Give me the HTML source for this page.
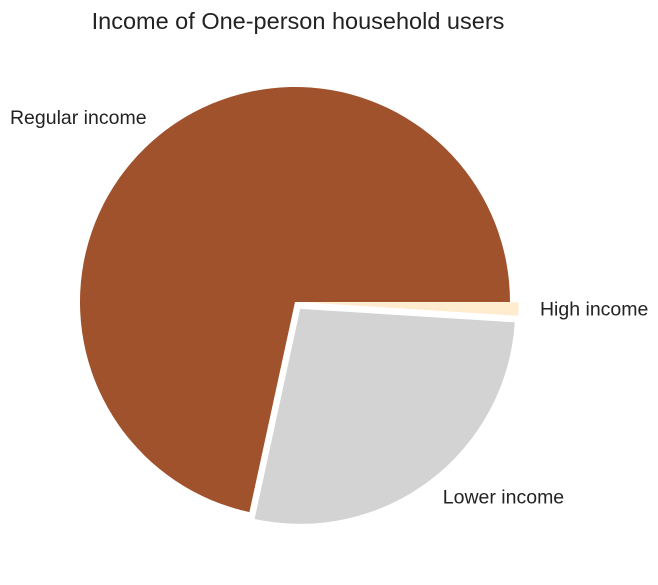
<!DOCTYPE html>
<html><head><meta charset="utf-8"><style>
html,body{margin:0;padding:0;background:#fff;}
svg{display:block;font-family:"Liberation Sans",Arial,sans-serif;}
</style></head><body>
<svg id="chart" width="658" height="585">
<text x="298" y="29" text-anchor="middle" font-size="23.5" fill="#222">Income of One-person household users</text>
<g id="slices"></g>
<g id="labels"></g>
</svg>
<script>
const categories = ["Regular income", "Lower income", "High income"];
const values = [71.6, 27.4, 1.0];
const explode = [0, 0.04, 0.04];
const colors = ["#A0522D", "#D3D3D3", "#FFEBCD"];
const cx = 295, cy = 302, r = 215;
const total = values.reduce((a, b) => a + b, 0);
const ns = "http://www.w3.org/2000/svg";
const gS = document.getElementById('slices'), gL = document.getElementById('labels');
let a0 = 0;
values.forEach((v, i) => {
  const a1 = a0 + v / total * 2 * Math.PI;
  const mid = (a0 + a1) / 2;
  const ox = cx + explode[i] * r * Math.cos(mid), oy = cy - explode[i] * r * Math.sin(mid);
  const x0 = ox + r * Math.cos(a0), y0 = oy - r * Math.sin(a0);
  const x1 = ox + r * Math.cos(a1), y1 = oy - r * Math.sin(a1);
  const large = (a1 - a0) > Math.PI ? 1 : 0;
  const p = document.createElementNS(ns, 'path');
  p.setAttribute('d', `M${ox},${oy} L${x0},${y0} A${r},${r} 0 ${large} 0 ${x1},${y1} Z`);
  p.setAttribute('fill', colors[i]);
  
  
  gS.appendChild(p);
  const lr = r * 1.1 + explode[i] * r;
  const lx = cx + lr * Math.cos(mid), ly = cy - lr * Math.sin(mid);
  const t = document.createElementNS(ns, 'text');
  t.setAttribute('x', lx);
  t.setAttribute('y', ly + 6);
  t.setAttribute('font-size', '19.5');
  t.setAttribute('fill', '#222');
  t.setAttribute('text-anchor', Math.cos(mid) < 0 ? 'end' : 'start');
  t.textContent = categories[i];
  
  
  gL.appendChild(t);
  a0 = a1;
});
</script>
</body></html>
